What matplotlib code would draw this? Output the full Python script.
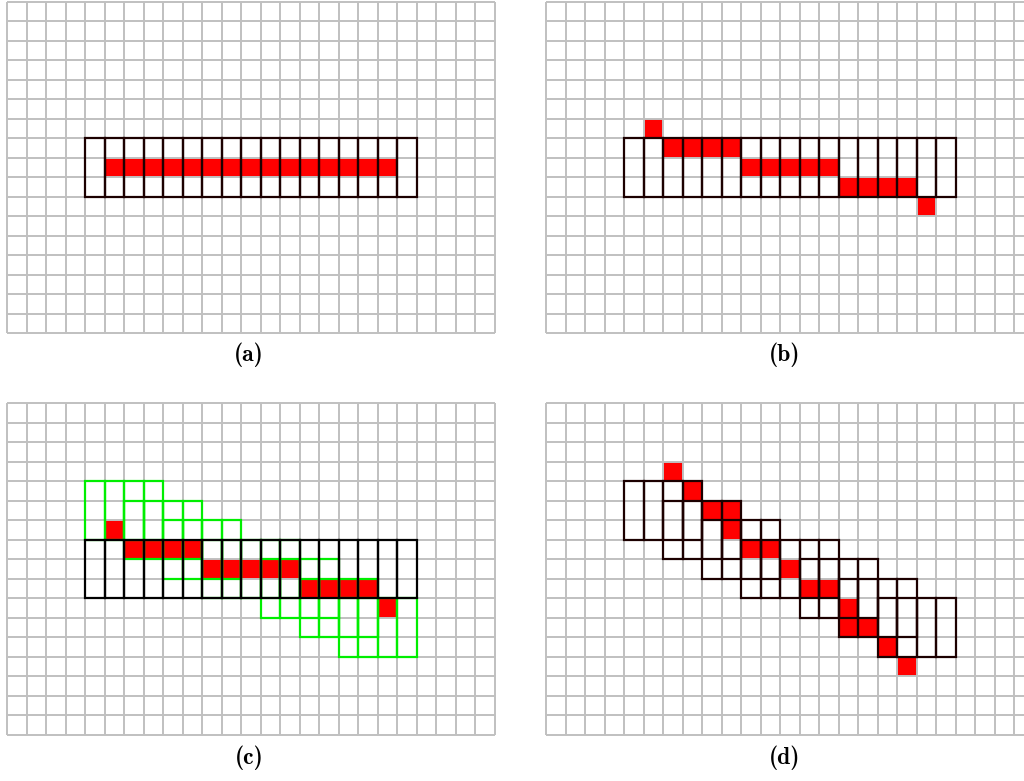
import os
import matplotlib
matplotlib.use("Agg")
import matplotlib.pyplot as plt
from matplotlib.patches import Rectangle
from matplotlib.font_manager import FontProperties

# fuente Computer Modern negrita incluida con matplotlib
ruta_cmb = os.path.join(matplotlib.get_data_path(), "fonts", "ttf", "cmb10.ttf")
fuente_etiqueta = FontProperties(fname=ruta_cmb, size=17)

# tamaño de la grilla (celdas)
n_cols = 25
n_rows = 17

# cajas verticales de 1x3 (paneles a, b, c)
box_cols = [4, 5, 6, 7, 8, 9, 10, 11, 12, 13, 14, 15, 16, 17, 18, 19, 20]
box_top = 7
box_h = 3

# pixeles rojos del panel (a)
red_a_cols = [5, 6, 7, 8, 9, 10, 11, 12, 13, 14, 15, 16, 17, 18, 19]
red_a_rows = [8, 8, 8, 8, 8, 8, 8, 8, 8, 8, 8, 8, 8, 8, 8]

# pixeles rojos de los paneles (b) y (c)
red_b_cols = [5, 6, 7, 8, 9, 10, 11, 12, 13, 14, 15, 16, 17, 18, 19]
red_b_rows = [6, 7, 7, 7, 7, 8, 8, 8, 8, 8, 9, 9, 9, 9, 10]

# pixeles rojos del panel (d)
red_d_cols = [6, 7, 8, 9, 9, 10, 11, 12, 13, 14, 15, 15, 16, 17, 18]
red_d_rows = [3, 4, 5, 5, 6, 7, 7, 8, 9, 9, 10, 11, 11, 12, 13]

# cajas inclinadas (verde en c, negro en d): columna y fila superior
tilt_cols = [4, 5, 6, 6, 7, 7, 8, 8, 9, 9, 10, 10, 11, 11, 12,
             13, 13, 14, 14, 15, 15, 16, 16, 17, 17, 18, 18, 19, 20]
tilt_tops = [4, 4, 4, 5, 4, 5, 5, 6, 5, 6, 6, 7, 6, 7, 7,
             7, 8, 7, 8, 8, 9, 8, 9, 9, 10, 9, 10, 10, 10]

labels = ["(a)", "(b)", "(c)", "(d)"]

W, H = 1024, 781
GRIS = "#c0c0c0"
NEGRO = "#1c0000"
VERDE = "#00ee00"


def crear_panel(fig, x0, y0):
    # x0, y0 en pixeles desde la esquina superior izquierda
    ancho = 19.5 * n_cols
    alto = 19.5 * n_rows
    ax = fig.add_axes([x0 / W, 1 - (y0 + alto) / H, ancho / W, alto / H])
    ax.set_xlim(0, n_cols)
    ax.set_ylim(n_rows, 0)
    ax.axis("off")
    ax.vlines(range(n_cols + 1), 0, n_rows, color=GRIS, lw=1.4,
              zorder=2, clip_on=False)
    ax.hlines(range(n_rows + 1), 0, n_cols, color=GRIS, lw=1.4,
              zorder=2, clip_on=False)
    return ax


def pintar_rojos(ax, cols, rows):
    for c, r in zip(cols, rows):
        ax.add_patch(Rectangle((c, r), 1, 1, facecolor="#ff0000",
                               edgecolor="none", zorder=1))


def cajas(ax, cols, tops, color, z):
    for c, t in zip(cols, tops):
        ax.add_patch(Rectangle((c, t), 1, box_h, fill=False,
                               edgecolor=color, lw=1.6, zorder=z,
                               clip_on=False))


fig = plt.figure(figsize=(W / 100, H / 100), dpi=100)

ax_a = crear_panel(fig, 7, 1.7)
ax_b = crear_panel(fig, 546, 1.7)
ax_c = crear_panel(fig, 7, 403.2)
ax_d = crear_panel(fig, 546, 403.2)

tops_planos = [box_top] * len(box_cols)

# (a)
pintar_rojos(ax_a, red_a_cols, red_a_rows)
cajas(ax_a, box_cols, tops_planos, NEGRO, 4)

# (b)
pintar_rojos(ax_b, red_b_cols, red_b_rows)
cajas(ax_b, box_cols, tops_planos, NEGRO, 4)

# (c)
pintar_rojos(ax_c, red_b_cols, red_b_rows)
cajas(ax_c, tilt_cols, tilt_tops, VERDE, 3)
cajas(ax_c, box_cols, tops_planos, "#000000", 4)

# (d)
pintar_rojos(ax_d, red_d_cols, red_d_rows)
cajas(ax_d, tilt_cols, tilt_tops, NEGRO, 4)

# etiquetas
posiciones = [(249, 355), (785, 355), (249, 758), (785, 758)]
for texto, (px, py) in zip(labels, posiciones):
    fig.text(px / W, 1 - py / H, texto, fontproperties=fuente_etiqueta,
             ha="center", va="center")

fig.savefig("out.png", dpi=100)
